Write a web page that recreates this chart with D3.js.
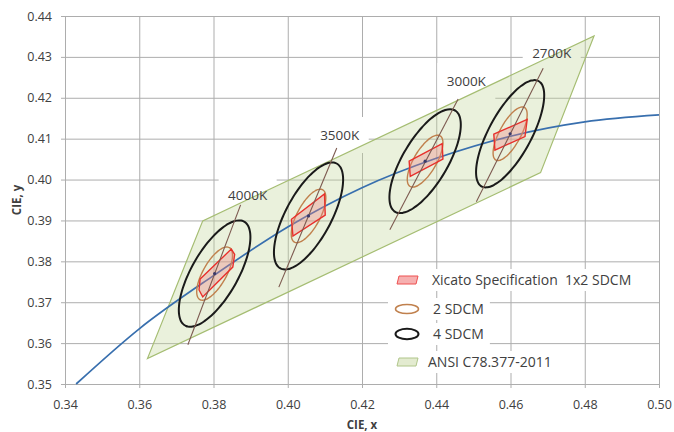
<!DOCTYPE html>
<html>
<head>
<meta charset="utf-8">
<script src="https://cdnjs.cloudflare.com/ajax/libs/d3/7.8.5/d3.min.js"></script>
<style>
  body { margin: 0; background: #fff; }
  text { font-family: "Open Sans", sans-serif; fill: #404040; white-space: pre; }
</style>
</head>
<body>
<svg id="chart" width="674" height="432"></svg>
<script>
// Planckian locus, CIE 1931 (x, y)
var locusX = [0.343, 0.360, 0.380, 0.400, 0.420, 0.440, 0.460, 0.480, 0.500];
var locusY = [0.3500, 0.3635, 0.3765, 0.3884, 0.3980, 0.4052, 0.4106, 0.4141, 0.4158];

// nominal CCTs
var cctNames = ["4000K", "3500K", "3000K", "2700K"];
var centerX  = [0.3803, 0.4056, 0.4370, 0.4599];
var centerY  = [0.3770, 0.3911, 0.4045, 0.4112];

// 4 SDCM ellipses: semi axes (xy units) and tilt (deg); 2 SDCM is half size
var ellA    = [0.0150, 0.0149, 0.0148, 0.0150];
var ellB    = [0.0061, 0.0060, 0.0059, 0.0056];
var ellTilt = [57, 58.5, 56, 58.5];

// isotemperature lines through each centre
var isoX1 = [0.3731, 0.3976, 0.4275, 0.4508];
var isoY1 = [0.3596, 0.3737, 0.3877, 0.3946];
var isoX2 = [0.3873, 0.4132, 0.4459, 0.4688];
var isoY2 = [0.3938, 0.4077, 0.4197, 0.4272];

// Xicato 1x2 SDCM regions (outline vertices)
var xicatoX = [[0.3764, 0.3848, 0.3857, 0.3852, 0.3771, 0.3761],
               [0.4010, 0.4099, 0.4101, 0.4014],
               [0.4327, 0.4416, 0.4418, 0.4330],
               [0.4555, 0.4645, 0.4639, 0.4558]];
var xicatoY = [[0.3757, 0.3830, 0.3817, 0.3786, 0.3713, 0.3730],
               [0.3903, 0.3965, 0.3913, 0.3862],
               [0.4045, 0.4088, 0.4050, 0.4008],
               [0.4111, 0.4147, 0.4105, 0.4072]];

// ANSI C78.377-2011 outline
var ansiX = [0.3622, 0.3771, 0.4825, 0.4681];
var ansiY = [0.3562, 0.3899, 0.4351, 0.4017];

// where the CCT labels sit
var labelX = [0.3892, 0.4140, 0.4481, 0.4711];
var labelY = [0.3962, 0.4109, 0.4241, 0.4309];

var xTicks = [0.34, 0.36, 0.38, 0.40, 0.42, 0.44, 0.46, 0.48, 0.50];
var yTicks = [0.35, 0.36, 0.37, 0.38, 0.39, 0.40, 0.41, 0.42, 0.43, 0.44];

var legendNames = ["Xicato Specification  1x2 SDCM", "2 SDCM", "4 SDCM", "ANSI C78.377-2011"];

//////////////
/// Layout ///
//////////////

var margin = {top: 16, right: 15, bottom: 48, left: 65};
var width  = 674 - margin.left - margin.right;
var height = 432 - margin.top - margin.bottom;

var gridColor = "#adadad";

var svg = d3.select("#chart");
var g = svg.append("g")
    .attr("transform", "translate(" + margin.left + "," + margin.top + ")");

var x = d3.scaleLinear().domain([0.34, 0.50]).range([0, width]);
var y = d3.scaleLinear().domain([0.35, 0.44]).range([height, 0]);

////////////
/// Grid ///
////////////

var yAxis = g.append("g")
    .attr("transform", "translate(-4,0)")
    .call(d3.axisLeft(y).tickValues(yTicks).tickFormat(d3.format(".2f"))
        .tickSize(-(width + 4)).tickPadding(9));
var xAxis = g.append("g")
    .attr("transform", "translate(0," + (height + 4) + ")")
    .call(d3.axisBottom(x).tickValues(xTicks).tickFormat(d3.format(".2f"))
        .tickSize(-(height + 4)).tickPadding(12));

[xAxis, yAxis].forEach(function (a) {
    a.select(".domain").remove();
    a.selectAll(".tick line").attr("stroke", gridColor).attr("stroke-width", 1);
    a.selectAll(".tick text").style("font-size", "12.5px").style("fill", "#404040")
        .style("font-family", "'Open Sans', sans-serif");
});

// white boxes behind CCT labels
g.selectAll(".lblbox")
    .data(cctNames)
    .enter()
    .append("rect")
    .attr("x", function (d, i) { return x(labelX[i]) - 29; })
    .attr("y", function (d, i) { return y(labelY[i]) - 18; })
    .attr("width", 58)
    .attr("height", 36)
    .attr("fill", "#fff");

//////////////
/// Shapes ///
//////////////

var polyLine = d3.line()
    .x(function (d) { return x(d[0]); })
    .y(function (d) { return y(d[1]); })
    .curve(d3.curveLinearClosed);

g.append("path")
    .attr("d", polyLine(d3.zip(ansiX, ansiY)))
    .attr("fill", "#c3d69b")
    .attr("fill-opacity", 0.35)
    .attr("stroke", "#a5bd72")
    .attr("stroke-width", 1.2);

var locusLine = d3.line()
    .x(function (d) { return x(d[0]); })
    .y(function (d) { return y(d[1]); })
    .curve(d3.curveMonotoneX);

g.append("path")
    .attr("d", locusLine(d3.zip(locusX, locusY)))
    .attr("fill", "none")
    .attr("stroke", "#386fae")
    .attr("stroke-width", 1.7);

function ellipsePoints(cx, cy, a, b, deg) {
    var th = deg * Math.PI / 180;
    return d3.range(72).map(function (k) {
        var t = k / 72 * 2 * Math.PI;
        var ex = a * Math.cos(t), ey = b * Math.sin(t);
        return [cx + ex * Math.cos(th) - ey * Math.sin(th),
                cy + ex * Math.sin(th) + ey * Math.cos(th)];
    });
}

var ellLine = d3.line()
    .x(function (d) { return x(d[0]); })
    .y(function (d) { return y(d[1]); })
    .curve(d3.curveCardinalClosed);

var groups = g.selectAll(".cct")
    .data(cctNames)
    .enter()
    .append("g")
    .attr("class", "cct");

groups.append("path")
    .attr("d", function (d, i) {
        return ellLine(ellipsePoints(centerX[i], centerY[i], ellA[i], ellB[i], ellTilt[i]));
    })
    .attr("fill", "none")
    .attr("stroke", "#1a1a1a")
    .attr("stroke-width", 2);

groups.append("path")
    .attr("d", function (d, i) {
        return ellLine(ellipsePoints(centerX[i], centerY[i], ellA[i] / 2, ellB[i] / 2, ellTilt[i]));
    })
    .attr("fill", "none")
    .attr("stroke", "#c0804d")
    .attr("stroke-width", 1.4);

groups.append("path")
    .attr("d", function (d, i) { return polyLine(d3.zip(xicatoX[i], xicatoY[i])); })
    .attr("fill", "#f08080")
    .attr("fill-opacity", 0.35)
    .attr("stroke", "#e8302c")
    .attr("stroke-width", 1.4);

groups.append("line")
    .attr("x1", function (d, i) { return x(isoX1[i]); })
    .attr("y1", function (d, i) { return y(isoY1[i]); })
    .attr("x2", function (d, i) { return x(isoX2[i]); })
    .attr("y2", function (d, i) { return y(isoY2[i]); })
    .attr("stroke", "#7d5a50")
    .attr("stroke-width", 1.1);

groups.append("circle")
    .attr("cx", function (d, i) { return x(centerX[i]); })
    .attr("cy", function (d, i) { return y(centerY[i]); })
    .attr("r", 1.6)
    .attr("fill", "#3a3a6a");

groups.append("text")
    .attr("x", function (d, i) { return x(labelX[i]); })
    .attr("y", function (d, i) { return y(labelY[i]); })
    .attr("dy", "0.35em")
    .attr("text-anchor", "middle")
    .style("font-size", "13.5px")
    .text(function (d) { return d; });

//////////////
/// Legend ///
//////////////

var legRowY  = [280, 309, 334, 362];
var legTextX = [432, 433, 433, 428];
var leg = svg.append("g");

var rows = leg.selectAll(".row")
    .data(legendNames)
    .enter()
    .append("g")
    .attr("class", "row");

rows.append("rect").attr("class", "bg");
rows.append("text")
    .attr("x", function (d, i) { return legTextX[i]; })
    .attr("y", function (d, i) { return legRowY[i]; })
    .attr("dy", "0.35em")
    .style("font-size", "14px")
    .text(function (d) { return d; });

rows.each(function (d, i) {
    var bb = d3.select(this).select("text").node().getBBox();
    d3.select(this).select("rect.bg")
        .attr("x", 388)
        .attr("y", legRowY[i] - 11)
        .attr("width", bb.x + bb.width + 6 - 388)
        .attr("height", 22)
        .attr("fill", "#fff");
});

var sw = 407;
function para(cy) {
    return [[sw - 10, cy + 4], [sw - 8, cy - 4], [sw + 11, cy - 4], [sw + 9, cy + 4]];
}
leg.append("polygon")
    .attr("points", para(legRowY[0]).join(" "))
    .attr("fill", "#f6b0b0").attr("stroke", "#ee5050").attr("stroke-width", 1);
leg.append("ellipse")
    .attr("cx", sw).attr("cy", legRowY[1]).attr("rx", 11.5).attr("ry", 4.5)
    .attr("fill", "none").attr("stroke", "#c0804d").attr("stroke-width", 1.5);
leg.append("ellipse")
    .attr("cx", sw).attr("cy", legRowY[2]).attr("rx", 11.5).attr("ry", 5.2)
    .attr("fill", "none").attr("stroke", "#1a1a1a").attr("stroke-width", 2);
leg.append("polygon")
    .attr("points", para(legRowY[3]).join(" "))
    .attr("fill", "#e3ebd0").attr("stroke", "#b0c68a").attr("stroke-width", 1);

///////////////////
/// Axis titles ///
///////////////////

svg.append("text")
    .attr("x", margin.left + width / 2)
    .attr("y", 429)
    .attr("text-anchor", "middle")
    .style("font-size", "11.5px")
    .style("font-weight", "bold")
    .text("CIE, x");

svg.append("text")
    .attr("transform", "translate(21," + (margin.top + height / 2) + ") rotate(-90)")
    .attr("text-anchor", "middle")
    .style("font-size", "11.5px")
    .style("font-weight", "bold")
    .text("CIE, y");
</script>
</body>
</html>
